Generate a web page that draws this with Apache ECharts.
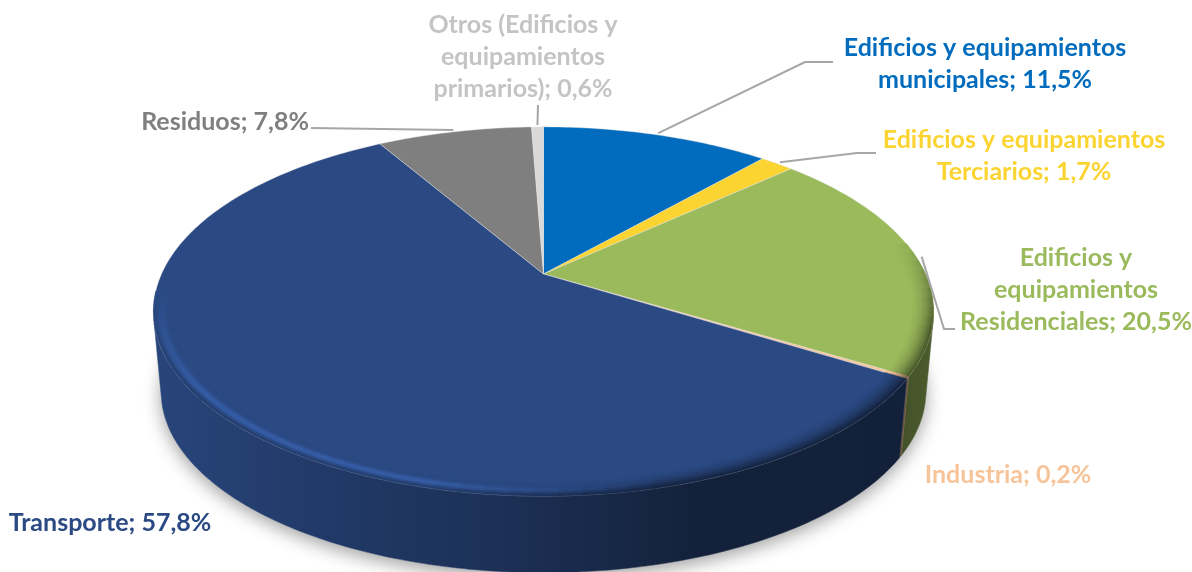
<!DOCTYPE html>
<html>
<head>
<meta charset="utf-8">
<title>Emisiones por sector</title>
<script src="https://cdn.jsdelivr.net/npm/echarts@6/dist/echarts.min.js"></script>
<style>
html, body { margin: 0; padding: 0; background: #fff; }
#main { width: 1192px; height: 572px; }
</style>
</head>
<body>
<div id="main"></div>
<script>
// slices clockwise from 12 o'clock
const categories = [
  'Edificios y equipamientos\nmunicipales',
  'Edificios y equipamientos\nTerciarios',
  'Edificios y\nequipamientos\nResidenciales',
  'Industria',
  'Transporte',
  'Residuos',
  'Otros (Edificios y\nequipamientos\nprimarios)'
]
const values = [11.5, 1.7, 20.5, 0.2, 57.8, 7.8, 0.6]
const colors = ['#016cbd', '#fbd431', '#9aba5c', '#f7c49a', '#2b4a84', '#7f7f7f', '#d9d9d9']
const labelColors = ['#016cbd', '#fbd431', '#9aba5c', '#f7c49a', '#2b4a84', '#7f7f7f', '#c4c4c4']

// label layout: centre of the text block, then the leader elbow points (null = no leader)
const labelPos = [[985, 64], [1024, 156], [1076, 290], [1008, 475], [110, 523], [225, 122], [523, 57]]
const leaders = [
  [[805, 62], [833, 62]],
  [[857, 153], [876, 153]],
  [[944, 329], [955, 329]],
  null,
  null,
  [[311, 128]],
  [[538, 105]]
]

// perspective of the pie disc
const cx = 543.5
const topY = 274
const botY = 355
const R = 382
const H = 177
const k = 0.203
const botScale = 0.98

const total = values.reduce((a, b) => a + b, 0)
const angles = []
let acc = 0
values.forEach(v => {
  angles.push([acc / total * 360, (acc + v) / total * 360])
  acc += v
})

function project(deg, r, bottom) {
  const a = deg * Math.PI / 180
  const u = r * Math.sin(a)
  const v = r * Math.cos(a)
  const s = 1 / (1 + k * v) * (bottom ? botScale : 1)
  return [cx + R * u * s, (bottom ? botY : topY) - H * v * s]
}

function arc(d0, d1, r, bottom, step) {
  const n = Math.max(1, Math.ceil((d1 - d0) / step))
  const pts = []
  for (let i = 0; i <= n; i++) pts.push(project(d0 + (d1 - d0) * i / n, r, bottom))
  return pts
}

function shade(hex, f) {
  const c = [1, 3, 5].map(i => parseInt(hex.substr(i, 2), 16))
  return 'rgb(' + c.map(x => Math.min(255, Math.round(x * f))).join(',') + ')'
}

function clamp(x) { return Math.max(0, Math.min(1, x)) }

// rim colour factor: t goes 0..1 towards the outer edge
function rimFactor(deg, t) {
  const a = deg * Math.PI / 180
  const right = clamp((Math.sin(a) + 0.25) / 0.5)
  const start = -0.1 + 0.3 * right
  const near = clamp((start - Math.cos(a)) / 0.5)
  const edge = 0.8 + (0.45 - 0.8) * right
  const bump = Math.exp(-Math.pow((t - 0.68) / 0.18, 2)) * (1 - right) * near * 0.36
  return 1 + (edge - 1) * near * t * t + bump
}

function wallFill(color) {
  return new echarts.graphic.LinearGradient(150, 0, 936, 0, [
    { offset: 0, color: shade(color, 0.93) },
    { offset: 0.19, color: shade(color, 0.8) },
    { offset: 0.45, color: shade(color, 0.65) },
    { offset: 0.7, color: shade(color, 0.44) },
    { offset: 0.95, color: shade(color, 0.43) },
    { offset: 1, color: shade(color, 0.5) }
  ], true)
}

// wall part facing the viewer: the strip folds at the sides and would cancel itself
function facesViewer(deg) {
  const p = project(deg, 1)
  const q = project(deg + 0.5, 1)
  const b = project(deg, 1, true)
  return (q[0] - p[0]) * (b[1] - p[1]) - (q[1] - p[1]) * (b[0] - p[0]) < 0
}

function renderShadow() {
  return {
    type: 'polygon',
    shape: { points: arc(0, 360, 1, true, 3) },
    style: { fill: '#fff', shadowBlur: 18, shadowColor: 'rgba(0,0,0,0.38)', shadowOffsetY: 5 }
  }
}

function renderWall(params) {
  const i = params.dataIndex
  const [d0, d1] = angles[i]
  const n = Math.max(2, Math.ceil(d1 - d0))
  const steps = []
  for (let s = 0; s <= n; s++) {
    const d = d0 + (d1 - d0) * s / n
    if (facesViewer(d)) steps.push(d)
  }
  if (steps.length < 2) return null
  const up = steps.map(d => project(d, 1))
  const down = steps.map(d => project(d, 1, true)).reverse()
  const fill = wallFill(colors[i])
  return { type: 'polygon', shape: { points: up.concat(down) }, style: { fill: fill, stroke: fill, lineWidth: 0.5 } }
}

function renderTop(params) {
  const i = params.dataIndex
  const [d0, d1] = angles[i]
  const pts = [[cx, topY]].concat(arc(d0, d1, 1, false, 1))
  return { type: 'polygon', shape: { points: pts }, style: { fill: colors[i], stroke: '#e6e6e6', lineWidth: 0.4 } }
}

function renderRim(params) {
  const i = params.dataIndex
  const [d0, d1] = angles[i]
  const bands = 10
  const rIn = 0.94
  const step = 3
  const n = Math.max(1, Math.ceil((d1 - d0) / step))
  const children = []
  for (let b = 0; b < bands; b++) {
    const r0 = rIn + (1 - rIn) * b / bands
    const r1 = rIn + (1 - rIn) * (b + 1) / bands
    for (let s = 0; s < n; s++) {
      const a0 = d0 + (d1 - d0) * s / n
      const a1 = d0 + (d1 - d0) * (s + 1) / n
      const f = rimFactor((a0 + a1) / 2, (b + 0.5) / bands)
      if (Math.abs(f - 1) < 0.003) continue
      const col = shade(colors[i], f)
      children.push({
        type: 'polygon',
        shape: { points: [project(a0, r0), project(a1, r0), project(a1, r1), project(a0, r1)] },
        style: { fill: col, stroke: col, lineWidth: 0.6 }
      })
    }
  }
  return { type: 'group', children: children }
}

function renderLabel(params, api) {
  const i = params.dataIndex
  const children = []
  if (leaders[i]) {
    const mid = (angles[i][0] + angles[i][1]) / 2
    children.push({
      type: 'polyline',
      shape: { points: [project(mid, 1.015)].concat(leaders[i]) },
      style: { fill: null, stroke: '#a6a6a6', lineWidth: 2 }
    })
  }
  const text = categories[i] + '; ' + api.value(0).toFixed(1).replace('.', ',') + '%'
  children.push({
    type: 'text',
    style: {
      text: text,
      x: labelPos[i][0],
      y: labelPos[i][1],
      align: 'center',
      verticalAlign: 'middle',
      fill: labelColors[i],
      font: 'bold 25px Lato, "Open Sans", sans-serif',
      lineHeight: 32
    }
  })
  return { type: 'group', children: children }
}

const layers = [renderShadow, renderWall, renderTop, renderRim, renderLabel]

const myChart = echarts.init(document.getElementById('main'))
myChart.setOption({
  animation: false,
  backgroundColor: '#fff',
  series: layers.map((fn, idx) => ({
    type: 'custom',
    coordinateSystem: 'none',
    silent: true,
    z: idx + 1,
    renderItem: fn,
    encode: { value: 0 },
    data: idx === 0 ? [0] : values.map(v => [v])
  }))
})
</script>
</body>
</html>
